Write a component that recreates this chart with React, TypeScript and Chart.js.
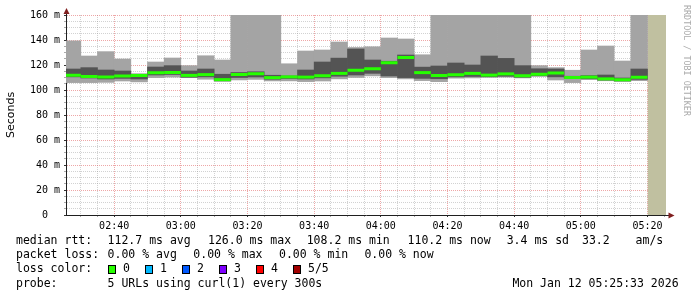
import React, { useEffect, useRef } from 'react';
import { Chart, registerables } from 'chart.js';

Chart.register(...registerables);

// ---- data -------------------------------------------------------------
const SLOTS = [
  '02:25', '02:30', '02:35', '02:40', '02:45', '02:50', '02:55',
  '03:00', '03:05', '03:10', '03:15', '03:20', '03:25', '03:30', '03:35',
  '03:40', '03:45', '03:50', '03:55', '04:00', '04:05', '04:10', '04:15',
  '04:20', '04:25', '04:30', '04:35', '04:40', '04:45', '04:50', '04:55',
  '05:00', '05:05', '05:10', '05:15',
];
// ms, per 5-minute slot (5 probes): lowest, 2nd, median, 4th, highest
const MIN_RTT = [
  105.9, 105.9, 106.1, 107.2, 106.5, 109.9, 110.3, 109.9, 108.6, 106.8,
  108.0, 108.5, 107.3, 107.3, 106.7, 107.2, 108.9, 110.0, 111.3, 109.9,
  108.9, 107.5, 106.7, 109.4, 109.6, 110.0, 110.2, 109.6, 110.8, 108.0,
  105.9, 108.3, 107.4, 106.8, 107.4,
];
const LOW_RTT = [
  110.5, 109.6, 108.8, 109.3, 108.8, 112.0, 112.4, 110.2, 110.5, 107.6,
  110.0, 110.4, 108.6, 109.2, 108.8, 109.7, 111.0, 112.0, 113.3, 111.2,
  109.9, 109.3, 109.0, 110.5, 110.8, 110.6, 111.0, 110.2, 111.5, 110.5,
  109.5, 109.0, 108.0, 107.3, 108.5,
];
const MEDIAN_RTT = [
  111.8, 110.8, 110.4, 111.2, 111.6, 113.8, 114.0, 111.7, 112.3, 108.3,
  112.4, 113.0, 109.9, 110.5, 110.3, 111.4, 113.3, 115.8, 117.0, 121.8,
  126.0, 113.9, 111.6, 112.2, 113.3, 111.9, 112.9, 111.4, 112.6, 113.6,
  110.0, 110.3, 108.9, 108.2, 110.2,
];
const HIGH_RTT = [
  116.8, 117.9, 116.0, 115.2, 112.6, 118.4, 119.5, 115.2, 116.8, 112.6,
  114.0, 114.6, 111.8, 111.2, 116.0, 122.4, 125.5, 132.8, 124.0, 123.0,
  128.0, 118.3, 119.2, 121.6, 120.0, 127.2, 125.3, 119.5, 117.0, 116.8,
  111.0, 111.5, 112.0, 109.6, 116.8,
];
const MAX_RTT = [
  139.3, 127.2, 130.7, 124.8, 113.0, 122.4, 125.6, 119.5, 127.4, 124.0,
  160.0, 160.0, 160.0, 121.0, 131.2, 132.0, 138.4, 134.0, 134.6, 141.6,
  140.8, 128.2, 160.0, 160.0, 160.0, 160.0, 160.0, 160.0, 119.5, 117.9,
  115.8, 132.0, 135.2, 123.2, 160.0,
];
const X_TICK_LABELS = ['02:40', '03:00', '03:20', '03:40', '04:00', '04:20', '04:40', '05:00', '05:20'];
const Y_TICK_VALUES = [0, 20, 40, 60, 80, 100, 120, 140, 160];
const Y_TICK_LABELS = ['0  ', '20 m', '40 m', '60 m', '80 m', '100 m', '120 m', '140 m', '160 m'];
const RANGE_START = '02:25:33';
const RANGE_END = '05:25:33';
const UNKNOWN_FROM = '05:20';
const STEP_MIN = 5;
const Y_MAX = 160;

const LOSS_COLORS = ['#26ff00', '#00b8ff', '#0059ff', '#7e00ff', '#ff0000', '#a10000'];
const LOSS_LABELS = ['0', '1', '2', '3', '4', '5/5'];

// ---- helpers ----------------------------------------------------------
const toMin = (s: string) => {
  const [h, m, sec] = s.split(':');
  return Number(h) * 60 + Number(m) + (sec ? Number(sec) / 60 : 0);
};

const MAJOR_GRID = 'rgba(222,79,79,0.5)';
const MINOR_GRID = 'rgba(143,143,143,0.4)';
const MONO = "'DejaVu Sans Mono', monospace";

const xMajor = new Map<number, string>(X_TICK_LABELS.map((l) => [toMin(l), l]));
const yMajor = new Map<number, string>(Y_TICK_VALUES.map((v, i) => [v, Y_TICK_LABELS[i]]));

const decorations = {
  id: 'decorations',
  afterDraw(chart: any) {
    const { ctx, chartArea: a } = chart;
    ctx.save();
    // axis extensions + arrows
    ctx.strokeStyle = '#1f1f1f';
    ctx.lineWidth = 1;
    ctx.beginPath();
    ctx.moveTo(a.left + 0.5, a.top);
    ctx.lineTo(a.left + 0.5, a.top - 3);
    ctx.moveTo(a.right, a.bottom + 0.5);
    ctx.lineTo(a.right + 4, a.bottom + 0.5);
    ctx.stroke();
    ctx.fillStyle = '#801f1f';
    ctx.beginPath();
    ctx.moveTo(a.left + 0.5, a.top - 7);
    ctx.lineTo(a.left + 3.5, a.top - 1);
    ctx.lineTo(a.left - 2.5, a.top - 1);
    ctx.closePath();
    ctx.fill();
    ctx.beginPath();
    ctx.moveTo(a.right + 8.5, a.bottom + 0.5);
    ctx.lineTo(a.right + 2.5, a.bottom - 2.5);
    ctx.lineTo(a.right + 2.5, a.bottom + 3.5);
    ctx.closePath();
    ctx.fill();

    // watermark
    ctx.save();
    ctx.translate(686, 5);
    ctx.rotate(Math.PI / 2);
    ctx.font = `8.4px ${MONO}`;
    ctx.fillStyle = '#aaaaaa';
    ctx.textAlign = 'left';
    ctx.textBaseline = 'middle';
    ctx.fillText('RRDTOOL / TOBI OETIKER', 0, 0);
    ctx.restore();

    // legend
    ctx.font = `11.5px ${MONO}`;
    ctx.fillStyle = '#000';
    ctx.textAlign = 'left';
    ctx.textBaseline = 'middle';
    const rows: [number, [string, number][]][] = [
      [241, [['median rtt:', 16], ['112.7 ms avg', 107.6], ['126.0 ms max', 208], ['108.2 ms min', 306.7],
        ['110.2 ms now', 407.6], ['3.4 ms sd', 506.7], ['33.2', 582], ['am/s', 635.6]]],
      [255.5, [['packet loss:', 16], ['0.00 % avg', 107.6], ['0.00 % max', 193.3], ['0.00 % min', 279],
        ['0.00 % now', 364.4]]],
      [269.5, [['loss color:', 16]]],
      [284, [['probe:', 16], ['5 URLs using curl(1) every 300s', 107.6], ['Mon Jan 12 05:25:33 2026', 512.4]]],
    ];
    rows.forEach(([y, items]) => items.forEach(([t, x]) => ctx.fillText(t, x, y)));
    const boxX = [108, 145, 182, 219, 256, 293];
    LOSS_COLORS.forEach((c, i) => {
      const x = boxX[i];
      const y = 269.5;
      ctx.fillStyle = c;
      ctx.fillRect(x, y - 4.5, 8, 9);
      ctx.strokeStyle = '#000';
      ctx.strokeRect(x + 0.5, y - 4, 7, 8);
      ctx.fillStyle = '#000';
      ctx.fillText(LOSS_LABELS[i], x + 15, y);
    });
    ctx.restore();
  },
};

export default function App() {
  const ref = useRef<HTMLCanvasElement | null>(null);

  useEffect(() => {
    if (!ref.current) return;
    const centers = SLOTS.map((s) => toMin(s) + STEP_MIN / 2);
    const halfSlotPx = (c: any) => {
      const s = c.chart.scales.x;
      return Math.abs(s.getPixelForValue(STEP_MIN) - s.getPixelForValue(0)) / 2;
    };
    const chart = new Chart(ref.current, {
      type: 'bar',
      data: {
        datasets: [
          {
            type: 'line',
            label: 'median',
            data: centers.map((x, i) => ({ x, y: MEDIAN_RTT[i] })),
            showLine: false,
            pointStyle: 'line',
            pointRadius: halfSlotPx,
            pointHoverRadius: halfSlotPx,
            pointBorderWidth: 3,
            pointBorderColor: LOSS_COLORS[0],
            pointBackgroundColor: LOSS_COLORS[0],
            order: 0,
            clip: 0,
          } as any,
          {
            type: 'bar',
            label: 'inner smoke',
            data: centers.map((x, i) => ({ x, y: [LOW_RTT[i], HIGH_RTT[i]] })),
            backgroundColor: '#545454',
            borderWidth: 0,
            grouped: false,
            barPercentage: 1,
            categoryPercentage: 1,
            order: 1,
            clip: 0,
          } as any,
          {
            type: 'bar',
            label: 'outer smoke',
            data: centers.map((x, i) => ({ x, y: [MIN_RTT[i], MAX_RTT[i]] })),
            backgroundColor: '#a4a4a4',
            borderWidth: 0,
            grouped: false,
            barPercentage: 1,
            categoryPercentage: 1,
            order: 2,
            clip: 0,
          } as any,
          {
            type: 'line',
            label: 'unknown',
            data: [
              { x: toMin(UNKNOWN_FROM), y: Y_MAX },
              { x: toMin(RANGE_END), y: Y_MAX },
            ],
            fill: 'origin',
            backgroundColor: '#c0c0a0',
            borderColor: 'rgba(0,0,0,0)',
            borderWidth: 1,
            pointRadius: 0,
            order: 3,
            clip: 0,
          } as any,
        ],
      },
      options: {
        responsive: false,
        animation: false,
        devicePixelRatio: 1,
        layout: { padding: { left: 0, right: 31, top: 15, bottom: 0 } },
        plugins: { legend: { display: false }, tooltip: { enabled: false } },
        events: [],
        scales: {
          x: {
            type: 'linear',
            offset: false,
            min: toMin(RANGE_START),
            max: toMin(RANGE_END),
            z: 1,
            afterBuildTicks: (scale: any) => {
              const ticks = [];
              for (let v = Math.ceil(scale.min / STEP_MIN) * STEP_MIN; v <= scale.max; v += STEP_MIN) {
                ticks.push({ value: v });
              }
              scale.ticks = ticks;
            },
            afterFit: (scale: any) => {
              scale.height = 82;
            },
            ticks: {
              autoSkip: false,
              maxRotation: 0,
              minRotation: 0,
              padding: 3,
              color: '#000',
              font: { family: MONO, size: 10 },
              callback: (v: any) => xMajor.get(Number(v)) ?? '',
            },
            grid: {
              offset: false,
              color: (c: any) => (xMajor.has(c.tick?.value) ? MAJOR_GRID : MINOR_GRID),
              tickColor: (c: any) => (xMajor.has(c.tick?.value) ? '#333' : '#aaa'),
              tickLength: 2,
              lineWidth: 1,
            },
            border: { display: true, color: '#1f1f1f', width: 1, dash: [1, 1] },
          },
          y: {
            type: 'linear',
            min: 0,
            max: Y_MAX,
            z: 1,
            afterFit: (scale: any) => {
              scale.width = 66;
            },
            ticks: {
              stepSize: 5,
              autoSkip: false,
              padding: 4,
              color: '#000',
              font: { family: MONO, size: 10 },
              callback: (v: any) => yMajor.get(Number(v)) ?? '',
            },
            grid: {
              color: (c: any) => (yMajor.has(c.tick?.value) ? MAJOR_GRID : MINOR_GRID),
              tickColor: (c: any) => (yMajor.has(c.tick?.value) ? '#333' : '#aaa'),
              tickLength: 2,
              lineWidth: 1,
            },
            border: { display: true, color: '#1f1f1f', width: 1, dash: [1, 1] },
            title: {
              display: true,
              text: 'Seconds',
              color: '#000',
              font: { family: "'DejaVu Sans', sans-serif", size: 11 },
              padding: { top: 5, bottom: 0 },
            },
          },
        },
      },
      plugins: [decorations],
    } as any);
    return () => chart.destroy();
  }, []);

  return (
    <div style={{ position: 'absolute', left: 0, top: 0, width: 697, height: 297, background: '#fff' }}>
      <canvas ref={ref} width={697} height={297} style={{ display: 'block', width: 697, height: 297 }} />
    </div>
  );
}
